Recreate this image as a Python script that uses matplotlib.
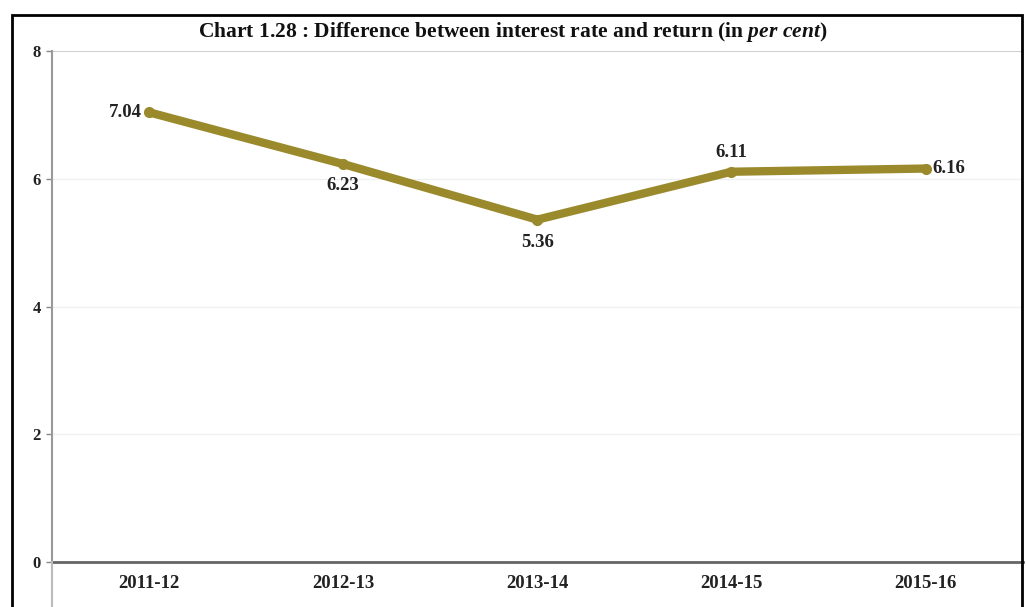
import matplotlib.pyplot as plt
from matplotlib.lines import Line2D
from matplotlib.patches import Rectangle

years = ["2011-12", "2012-13", "2013-14", "2014-15", "2015-16"]
gap = [7.04, 6.23, 5.36, 6.11, 6.16]
yticks = [0, 2, 4, 6, 8]

# label placement per point: (dx, dy in points, ha, va)
label_pos = [(-5, 0, "right", "center"),
             (0, -9, "center", "top"),
             (0, -10, "center", "top"),
             (0, 8, "center", "bottom"),
             (5, 0, "left", "center")]

plt.rcParams["font.family"] = ["Liberation Serif", "DejaVu Serif"]
plt.rcParams["mathtext.fontset"] = "custom"
plt.rcParams["mathtext.it"] = "Liberation Serif:italic:bold"
plt.rcParams["mathtext.rm"] = "Liberation Serif:bold"

fig = plt.figure(figsize=(10.26, 6.07), dpi=100)
ax = fig.add_axes([0.0507, 0.074, 0.946, 0.842])

line_color = "#9a8a2c"
x = list(range(len(years)))
ax.plot(x, gap, color=line_color, lw=6, solid_capstyle="round",
        solid_joinstyle="round", marker="o", markersize=7, zorder=3)

for i, v in enumerate(gap):
    dx, dy, ha, va = label_pos[i]
    ax.annotate(f"{v:.2f}", (i, v), xytext=(dx, dy), textcoords="offset points",
                ha=ha, va=va, fontsize=13.5, fontweight="bold", color="#222222")

ax.set_xlim(-0.5, 4.5)
ax.set_ylim(0, 8)
ax.set_xticks(x)
ax.set_xticklabels(years, fontsize=13.5, fontweight="bold", color="#222222")
ax.set_yticks(yticks)
ax.set_yticklabels([str(t) for t in yticks], fontsize=12, fontweight="bold", color="#222222")
ax.tick_params(axis="x", length=0, pad=9)
ax.tick_params(axis="y", length=4, width=1, color="#888888", pad=4)

for t in yticks[1:-1]:
    ax.axhline(t, color="#f0f0f0", lw=1, zorder=0)
ax.axhline(8, color="#cfcfcf", lw=1.5, zorder=0)

for s in ["top", "right"]:
    ax.spines[s].set_visible(False)
ax.spines["left"].set_color("#999999")
ax.spines["left"].set_linewidth(1.5)
ax.spines["bottom"].set_color("#666666")
ax.spines["bottom"].set_linewidth(2)

# y axis runs on below the x axis to the page edge
fig.add_artist(Line2D([0.0507, 0.0507], [0.0, 0.074], color="#bbbbbb", lw=1.5))

fig.text(0.5, 0.947, "Chart 1.28 : Difference between interest rate and return (in $per\\ cent$)",
         ha="center", va="center", fontsize=15.5, fontweight="bold", color="#111111")

# outer frame
fig.add_artist(Rectangle((0.0117, -0.01), 0.984, 0.985, fill=False,
                         edgecolor="black", lw=2, transform=fig.transFigure))

fig.savefig("out.png", dpi=100)
